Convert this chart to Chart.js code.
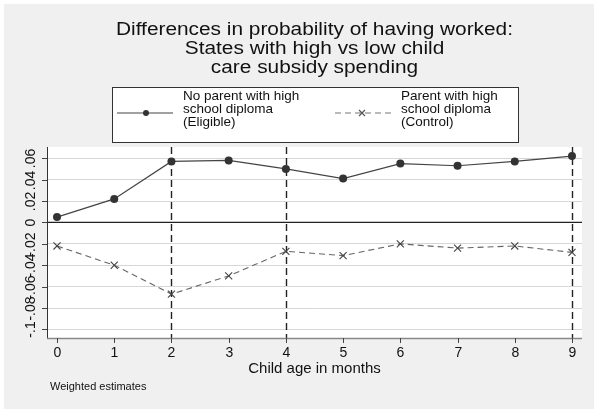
<!DOCTYPE html>
<html>
<head>
<meta charset="utf-8">
<script src="https://cdn.jsdelivr.net/npm/chart.js@4/dist/chart.umd.min.js"></script>
<style>
  html, body { margin: 0; padding: 0; background: #fff; }
  #wrap { width: 602px; height: 415px; }
</style>
</head>
<body>
<div id="wrap"><canvas id="chart" width="602" height="415"></canvas></div>
<script>
// values
const months = [0, 1, 2, 3, 4, 5, 6, 7, 8, 9];
const eligible = [0.005, 0.022, 0.057, 0.058, 0.050, 0.041, 0.055, 0.053, 0.057, 0.062];
const control = [-0.022, -0.040, -0.067, -0.050, -0.027, -0.031, -0.020, -0.024, -0.022, -0.028];
const yTicks = [-0.1, -0.08, -0.06, -0.04, -0.02, 0, 0.02, 0.04, 0.06];
const yTickLabels = ['-.1', '-.08', '-.06', '-.04', '-.02', '0', '.02', '.04', '.06'];
const xLines = [2, 4, 9];
const titleLines = ['Differences in probability of having worked:', 'States with high vs low child', 'care subsidy spending'];
const legendEligible = ['No parent with high', 'school diploma', '(Eligible)'];
const legendControl = ['Parent with high', 'school diploma', '(Control)'];

const FONT = 'Arial, "Liberation Sans", sans-serif';

function text(ctx, s, x, y, size, align, sx) {
    ctx.save();
    ctx.font = size + 'px ' + FONT;
    ctx.fillStyle = '#111';
    ctx.textAlign = align || 'left';
    ctx.textBaseline = 'alphabetic';
    ctx.translate(x, y);
    ctx.scale(sx || 1, 1);
    ctx.fillText(s, 0, 0);
    ctx.restore();
}

const decor = {
    id: 'decor',
    beforeDraw(chart) {
        const ctx = chart.ctx, a = chart.chartArea;
        ctx.save();
        ctx.fillStyle = '#fff';
        ctx.fillRect(0, 0, chart.width, chart.height);
        ctx.fillStyle = '#f0f0f0';
        ctx.fillRect(4, 4, 590, 405);
        ctx.fillStyle = '#fff';
        ctx.fillRect(a.left, a.top, a.right - a.left, a.bottom - a.top);
        ctx.restore();
    },
    beforeDatasetsDraw(chart) {
        const ctx = chart.ctx, a = chart.chartArea;
        const x = chart.scales.x, y = chart.scales.y;
        ctx.save();
        // zero line
        ctx.strokeStyle = '#222';
        ctx.lineWidth = 1.2;
        ctx.beginPath();
        ctx.moveTo(a.left, y.getPixelForValue(0));
        ctx.lineTo(a.right, y.getPixelForValue(0));
        ctx.stroke();
        // vertical dashed lines
        ctx.setLineDash([7, 4]);
        ctx.lineWidth = 1.4;
        xLines.forEach(v => {
            const px = Math.round(x.getPixelForValue(v)) + 0.5;
            ctx.beginPath();
            ctx.moveTo(px, a.top);
            ctx.lineTo(px, a.bottom);
            ctx.stroke();
        });
        ctx.restore();
    },
    afterDraw(chart) {
        const ctx = chart.ctx, a = chart.chartArea;
        const x = chart.scales.x, y = chart.scales.y;
        ctx.save();
        // axes
        ctx.lineWidth = 1;
        ctx.strokeStyle = '#333';
        ctx.beginPath();
        ctx.moveTo(a.left + 0.5, a.top);
        ctx.lineTo(a.left + 0.5, a.bottom);
        ctx.stroke();
        ctx.strokeStyle = '#888';
        ctx.lineWidth = 1.5;
        ctx.beginPath();
        ctx.moveTo(a.left, a.bottom + 0.5);
        ctx.lineTo(a.right, a.bottom + 0.5);
        ctx.stroke();
        // tick marks + labels
        ctx.strokeStyle = '#444';
        ctx.lineWidth = 1;
        yTicks.forEach((v, i) => {
            const py = Math.round(y.getPixelForValue(v)) + 0.5;
            ctx.beginPath();
            ctx.moveTo(a.left - 5, py);
            ctx.lineTo(a.left, py);
            ctx.stroke();
            ctx.save();
            ctx.translate(35, py);
            ctx.rotate(-Math.PI / 2);
            ctx.font = '14px ' + FONT;
            ctx.fillStyle = '#111';
            ctx.textAlign = 'center';
            ctx.fillText(yTickLabels[i], 0, 0);
            ctx.restore();
        });
        months.forEach(m => {
            const px = Math.round(x.getPixelForValue(m)) + 0.5;
            ctx.beginPath();
            ctx.moveTo(px, a.bottom);
            ctx.lineTo(px, a.bottom + 5);
            ctx.stroke();
            text(ctx, String(m), px, 357, 14, 'center');
        });
        text(ctx, 'Child age in months', (a.left + a.right) / 2, 373, 15, 'center');
        text(ctx, 'Weighted estimates', 50, 390, 11, 'left');

        // title, a bit wider than plain Arial
        ctx.font = '17.5px ' + FONT;
        const sx = 397 / ctx.measureText(titleLines[0]).width;
        const cx = (a.left + a.right) / 2;
        titleLines.forEach((s, i) => text(ctx, s, cx, 35 + i * 19, 17.5, 'center', sx));

        // legend box
        ctx.fillStyle = '#fff';
        ctx.fillRect(112, 87, 406, 55);
        ctx.strokeStyle = '#333';
        ctx.lineWidth = 1;
        ctx.strokeRect(112.5, 87.5, 406, 55);
        // eligible symbol
        ctx.strokeStyle = '#444';
        ctx.lineWidth = 1.2;
        ctx.beginPath();
        ctx.moveTo(117, 113);
        ctx.lineTo(173, 113);
        ctx.stroke();
        ctx.fillStyle = '#333';
        ctx.beginPath();
        ctx.arc(146, 113, 3, 0, Math.PI * 2);
        ctx.fill();
        // control symbol
        ctx.strokeStyle = '#777';
        ctx.setLineDash([6, 4]);
        ctx.beginPath();
        ctx.moveTo(335, 113);
        ctx.lineTo(392, 113);
        ctx.stroke();
        ctx.setLineDash([]);
        ctx.strokeStyle = '#555';
        ctx.beginPath();
        ctx.moveTo(359, 110); ctx.lineTo(365, 116);
        ctx.moveTo(365, 110); ctx.lineTo(359, 116);
        ctx.stroke();
        legendEligible.forEach((s, i) => text(ctx, s, 183, 100 + i * 13, 13.5, 'left'));
        legendControl.forEach((s, i) => text(ctx, s, 401, 100 + i * 13, 13.5, 'left'));
        ctx.restore();
    }
};

new Chart(document.getElementById('chart'), {
    type: 'line',
    data: {
        datasets: [{
            label: 'No parent with high school diploma (Eligible)',
            data: months.map((m, i) => ({x: m, y: eligible[i]})),
            borderColor: '#444',
            borderWidth: 1.2,
            pointRadius: 4,
            pointBackgroundColor: '#333',
            pointBorderWidth: 0,
            tension: 0
        }, {
            label: 'Parent with high school diploma (Control)',
            data: months.map((m, i) => ({x: m, y: control[i]})),
            borderColor: '#666',
            borderWidth: 1.1,
            borderDash: [6, 4],
            pointStyle: 'crossRot',
            pointRadius: 5,
            pointBorderColor: '#444',
            pointBorderWidth: 1.1,
            tension: 0
        }]
    },
    options: {
        responsive: false,
        animation: false,
        layout: {padding: {left: 47, top: 147, right: 20, bottom: 77}},
        plugins: {
            legend: {display: false},
            title: {display: false},
            tooltip: {enabled: false}
        },
        scales: {
            x: {
                type: 'linear',
                min: -0.175,
                max: 9.175,
                ticks: {display: false},
                grid: {display: false, drawTicks: false},
                border: {display: false}
            },
            y: {
                type: 'linear',
                min: -0.108,
                max: 0.0705,
                afterBuildTicks: (scale) => { scale.ticks = yTicks.map(v => ({value: v})); },
                ticks: {display: false},
                grid: {color: '#d6d6d6', lineWidth: 1, drawTicks: false},
                border: {display: false}
            }
        }
    },
    plugins: [decor]
});
</script>
</body>
</html>
